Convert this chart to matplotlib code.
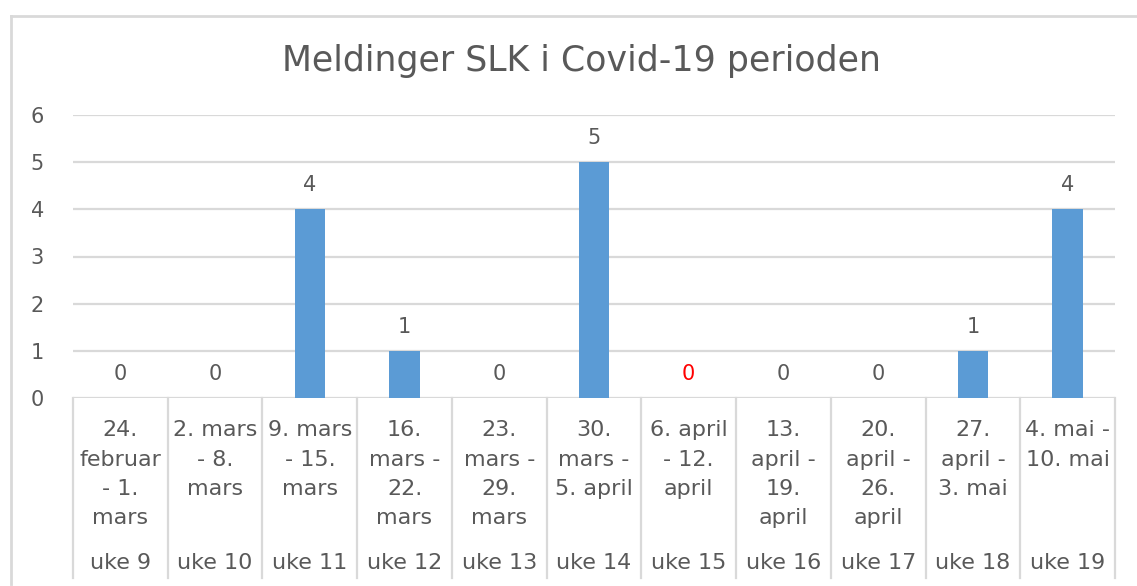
import matplotlib.pyplot as plt
from matplotlib.lines import Line2D
import matplotlib.transforms as mtransforms

plt.rcParams['font.family'] = ['DejaVu Sans']

date_labels = ["24.\nfebruar\n- 1.\nmars", "2. mars\n- 8.\nmars", "9. mars\n- 15.\nmars",
               "16.\nmars -\n22.\nmars", "23.\nmars -\n29.\nmars", "30.\nmars -\n5. april",
               "6. april\n- 12.\napril", "13.\napril -\n19.\napril", "20.\napril -\n26.\napril",
               "27.\napril -\n3. mai", "4. mai -\n10. mai"]
week_labels = ["uke 9", "uke 10", "uke 11", "uke 12", "uke 13", "uke 14",
               "uke 15", "uke 16", "uke 17", "uke 18", "uke 19"]
counts = [0, 0, 4, 1, 0, 5, 0, 0, 0, 1, 4]
label_colors = ["#595959"] * 6 + ["#FF0000"] + ["#595959"] * 4

W, H = 1137, 586
grey = "#595959"
line_grey = "#D9D9D9"

fig = plt.figure(figsize=(W / 100, H / 100), dpi=100)
# plot area in pixel coordinates
left, right, top, bottom = 73, 1115, 115, 398
ax = fig.add_axes([left / W, (H - bottom) / H, (right - left) / W, (bottom - top) / H])
ah = bottom - top

x = list(range(len(counts)))
ax.bar(x, counts, width=0.32, color="#5B9BD5", zorder=3)
ax.set_xlim(-0.5, len(counts) - 0.5)
ax.set_ylim(0, 6)
ax.set_yticks(range(0, 7))
ax.yaxis.grid(True, color=line_grey, linewidth=1.6)
ax.set_axisbelow(True)
for s in ax.spines.values():
    s.set_visible(False)
ax.set_xticks([])
ax.tick_params(axis="y", length=0, pad=21, labelsize=15, labelcolor=grey)

# value labels
off = mtransforms.offset_copy(ax.transData, fig=fig, x=0, y=24, units="dots")
for xi, v, c in zip(x, counts, label_colors):
    ax.text(xi, v, str(v), transform=off, ha="center", va="center", fontsize=15, color=c)

# category labels (two levels)
tr = ax.get_xaxis_transform()
for xi, lab, wk in zip(x, date_labels, week_labels):
    for i, line in enumerate(lab.split("\n")):
        ypix = 430 + 29.5 * i
        ax.text(xi, -(ypix - bottom) / ah, line, transform=tr, ha="center", va="center",
                fontsize=16, color=grey)
    ax.text(xi, -(563 - bottom) / ah, wk, transform=tr, ha="center", va="center",
            fontsize=16, color=grey)

# divider lines between categories
for b in range(len(counts) + 1):
    ax.add_line(Line2D([b - 0.5, b - 0.5], [0, -(578 - bottom) / ah], transform=tr,
                       color=line_grey, linewidth=1.6, clip_on=False))

# chart border (left and top visible)
fig.add_artist(Line2D([11 / W, 11 / W], [1 - 16 / H, 1 - 584 / H], color=line_grey, linewidth=2))
fig.add_artist(Line2D([11 / W, 1.0], [1 - 16 / H, 1 - 16 / H], color=line_grey, linewidth=2))

fig.text((270 + 893) / 2 / W, 1 - 61 / H, "Meldinger SLK i Covid-19 perioden",
         ha="center", va="center", fontsize=25, color=grey)

fig.savefig("out.png", dpi=100, facecolor="white")
